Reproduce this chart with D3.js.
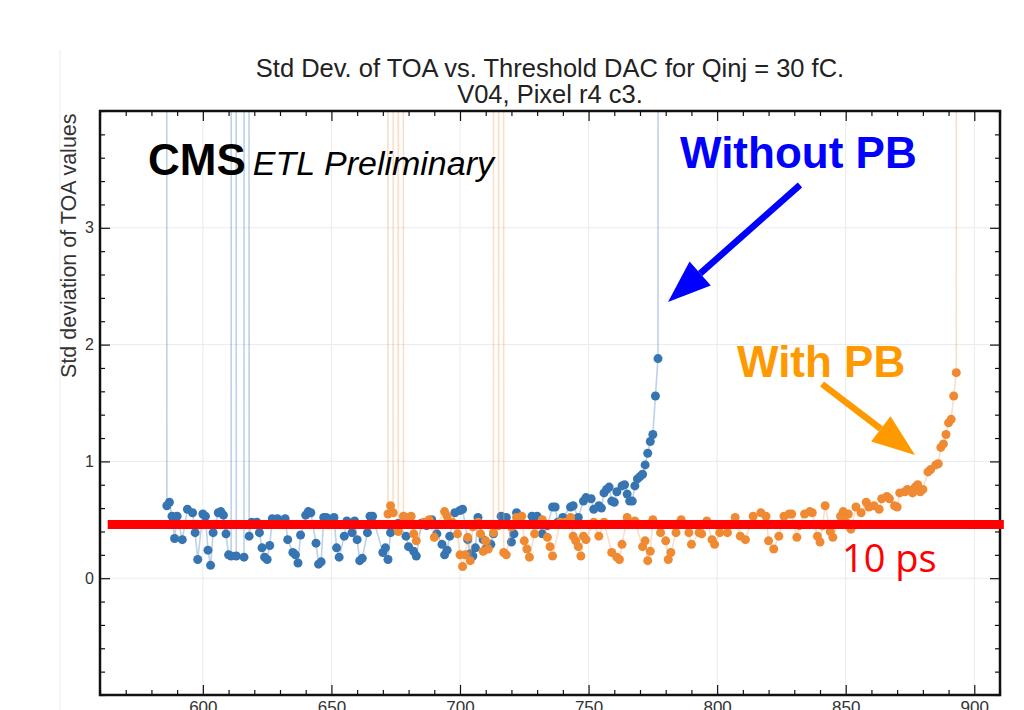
<!DOCTYPE html>
<html>
<head>
    <meta charset="utf-8">
    <title>Std Dev of TOA vs Threshold DAC</title>
    <script type="text/javascript" src="https://cdn.jsdelivr.net/npm/d3@7"></script>
    <style type="text/css">
        body {
            margin: 0;
            background: #fff;
        }

        svg {
            display: block;
            font-family: "Liberation Sans", Arial, sans-serif;
        }

        .grid line {
            stroke: #ebebeb;
            stroke-width: 1;
        }

        .axis path {
            stroke: none;
        }

        .axis line {
            stroke: #111;
            stroke-width: 1.2;
        }

        .axis text {
            fill: #333;
        }
    </style>
</head>

<body>

<script type="text/javascript">
    // Without PB (blue): DAC value and std deviation, 100 = off-scale spike
    var blueDac = [585, 586, 587, 588, 589, 590, 592, 594, 596, 597, 598, 600, 601, 602, 603, 604,
        606, 607, 608, 609, 610, 611, 612, 613, 616, 617, 618, 619, 621, 622, 623, 624, 625, 626,
        627, 629, 632, 633, 635, 636, 637, 638, 640, 641, 642, 644, 645, 646, 647, 648, 651, 652,
        653, 655, 656, 658, 659, 660, 661, 662, 664, 665, 666, 670, 671, 672, 673, 676, 679, 680,
        682, 683, 685, 687, 689, 691, 693, 694, 695, 696, 698, 700, 701, 703, 704, 705, 706, 707,
        709, 710, 712, 713, 716, 718, 720, 721, 722, 723, 726, 728, 730, 732, 734, 736, 737, 738,
        740, 743, 744, 746, 748, 749, 751, 752, 754, 755, 756, 757, 758, 759, 760, 761, 763, 764,
        765, 766, 767, 768, 769, 770, 771, 772, 773, 774, 775, 776, 777, 778];
    var blueStd = [100, 0.62, 0.65, 0.53, 0.34, 0.53, 0.33, 0.59, 0.56, 0.39, 0.16, 0.55, 0.53, 0.24, 0.11, 0.39,
        0.56, 0.57, 0.54, 0.38, 0.20, 0.19, 100, 0.19, 0.18, 100, 0.36, 0.48, 0.48, 0.39, 0.26, 0.18, 0.16, 0.28,
        0.51, 0.51, 0.51, 0.33, 0.22, 0.20, 0.13, 0.37, 0.54, 0.57, 0.56, 0.30, 0.12, 0.14, 0.52, 0.52, 0.52, 0.26,
        0.18, 0.36, 0.49, 0.39, 0.49, 0.33, 0.15, 0.17, 0.39, 0.53, 0.53, 0.22, 0.26, 0.16, 0.39, 0.47, 0.36, 0.27,
        0.23, 0.19, 0.47, 0.45, 0.50, 0.38, 0.29, 0.20, 0.24, 0.36, 0.56, 0.58, 0.59, 0.33, 0.21, 0.19, 0.26, 0.52,
        0.33, 0.25, 0.29, 0.38, 0.53, 0.52, 0.31, 0.38, 0.56, 0.53, 0.46, 0.53, 0.53, 0.38, 0.45, 0.61, 0.61, 0.48,
        0.52, 0.61, 0.62, 0.52, 0.66, 0.69, 0.68, 0.59, 0.62, 0.60, 0.73, 0.76, 0.78, 0.66, 0.65, 0.74, 0.79, 0.80,
        0.72, 0.66, 0.66, 0.79, 0.85, 0.87, 0.89, 0.97, 1.07, 1.17, 1.23, 1.56, 1.88, 100];

    // With PB (orange)
    var orangeDac = [671, 672, 673, 674, 675, 676, 677, 678, 679, 681, 682, 683, 686, 688, 690, 691,
        694, 695, 697, 699, 700, 701, 702, 703, 704, 705, 707, 708, 709, 710, 711, 713, 714, 715,
        716, 717, 718, 720, 722, 724, 725, 726, 727, 729, 732, 734, 735, 736, 739, 741, 743, 744,
        745, 746, 747, 748, 749, 752, 754, 756, 759, 761, 762, 763, 765, 768, 771, 772, 773, 774,
        775, 778, 780, 781, 782, 784, 786, 789, 790, 793, 794, 796, 798, 799, 801, 804, 807, 809,
        811, 814, 817, 819, 820, 822, 824, 826, 828, 829, 831, 832, 834, 836, 837, 839, 840, 841,
        842, 844, 845, 848, 849, 850, 851, 852, 854, 856, 858, 859, 861, 863, 864, 866, 867, 869,
        870, 871, 873, 874, 876, 877, 878, 879, 880, 882, 883, 885, 886, 887, 888, 889, 890, 891,
        892, 893, 894];
    var orangeStd = [100, 0.55, 0.62, 0.56, 100, 0.40, 100, 0.53, 0.52, 0.53, 0.38, 0.32, 0.48, 0.50, 0.35, 0.46,
        0.57, 0.53, 0.48, 0.38, 0.20, 0.10, 0.20, 0.35, 0.15, 0.44, 0.48, 0.38, 0.23, 0.32, 0.25, 0.39, 100, 0.45,
        100, 0.22, 0.20, 0.44, 0.52, 0.53, 0.32, 0.25, 0.18, 0.38, 0.50, 0.35, 0.27, 0.19, 0.48, 0.48, 0.52, 0.36,
        0.32, 0.27, 0.19, 0.36, 0.33, 0.48, 0.36, 0.48, 0.22, 0.18, 0.16, 0.29, 0.52, 0.49, 0.27, 0.32, 0.15, 0.23,
        0.50, 0.39, 0.32, 0.16, 0.22, 0.39, 0.50, 0.39, 0.29, 0.39, 0.38, 0.49, 0.33, 0.29, 0.39, 0.39, 0.52, 0.36,
        0.33, 0.53, 0.56, 0.53, 0.32, 0.25, 0.36, 0.53, 0.55, 0.55, 0.35, 0.45, 0.55, 0.57, 0.56, 0.36, 0.31, 0.45,
        0.62, 0.40, 0.35, 0.53, 0.57, 0.48, 0.55, 0.42, 0.61, 0.56, 0.65, 0.61, 0.62, 0.59, 0.68, 0.70, 0.68, 0.62,
        0.61, 0.73, 0.74, 0.76, 0.73, 0.78, 0.80, 0.74, 0.76, 0.91, 0.93, 0.97, 0.98, 1.12, 1.15, 1.23, 1.33, 1.36,
        1.56, 1.76, 100];

    var xMajor = [600, 650, 700, 750, 800, 850, 900];
    var yMajor = [0, 1, 2, 3];
    var titleLines = ["Std Dev. of TOA vs. Threshold DAC for Qinj = 30 fC.", "V04, Pixel r4 c3."];
    var yLabel = "Std deviation of TOA values";
    var refLevel = 0.46; // the red "10 ps" line

    var w = 1024, h = 710,
        plotLeft = 100, plotRight = 1000, plotTop = 111, plotBottom = 695;

    var svg = d3.select("body")
        .append("svg")
            .attr("width", w)
            .attr("height", h);

    svg.append("rect").attr("width", w).attr("height", h).attr("fill", "#fff");

    // faint edge of the pasted plot image
    svg.append("line")
        .attr("x1", 60).attr("x2", 60).attr("y1", 50).attr("y2", h)
        .attr("stroke", "#f1f3f7").attr("stroke-width", 1.5);

    var x = d3.scaleLinear().domain([560, 910]).range([plotLeft, plotRight]);
    var y = d3.scaleLinear().domain([-1, 4]).range([plotBottom, plotTop]);

    var xMinor = d3.range(560, 911, 10).filter(function (v) {return xMajor.indexOf(v) < 0;});
    var yMinor = d3.range(-10, 41, 2).map(function (v) {return v / 10;})
        .filter(function (v) {return yMajor.indexOf(v) < 0;});

    // grid
    var grid = svg.append("g").attr("class", "grid");
    grid.selectAll(".gx").data(xMajor).enter().append("line")
        .attr("x1", x).attr("x2", x).attr("y1", plotTop).attr("y2", plotBottom);
    grid.selectAll(".gy").data(yMajor).enter().append("line")
        .attr("y1", y).attr("y2", y).attr("x1", plotLeft).attr("x2", plotRight);

    // data
    svg.append("clipPath").attr("id", "clip")
        .append("rect").attr("x", plotLeft).attr("y", plotTop)
        .attr("width", plotRight - plotLeft).attr("height", plotBottom - plotTop);

    var plot = svg.append("g").attr("clip-path", "url(#clip)");

    function drawSeries(dac, vals, lineColor, dotColor) {
        var pts = dac.map(function (d, i) {return {dac: d, std: vals[i]};});
        var line = d3.line()
            .x(function (d) {return x(d.dac);})
            .y(function (d) {return y(d.std);});

        plot.append("path")
            .datum(pts)
            .attr("d", line)
            .attr("fill", "none")
            .attr("stroke", lineColor)
            .attr("stroke-opacity", 0.35)
            .attr("stroke-width", 1.6);

        plot.append("g").selectAll("circle")
            .data(pts.filter(function (d) {return d.std < 4;}))
            .enter().append("circle")
                .attr("cx", function (d) {return x(d.dac);})
                .attr("cy", function (d) {return y(d.std);})
                .attr("r", 4.5)
                .attr("fill", dotColor);
    }

    drawSeries(blueDac, blueStd, "#3f7fbf", "#3675b2");
    drawSeries(orangeDac, orangeStd, "#f0a060", "#ef8a33");

    // axes, ticks pointing inwards on all four sides
    function addAxis(axis, tx, ty, values, size, labels, fontSize) {
        var g = svg.append("g")
            .attr("class", "axis")
            .attr("transform", "translate(" + tx + "," + ty + ")")
            .call(axis.tickValues(values).tickSize(size).tickPadding(6)
                .tickFormat(labels ? d3.format("d") : ""));
        g.selectAll("text").style("font-size", fontSize || "15px");
        return g;
    }

    addAxis(d3.axisBottom(x), 0, plotBottom, xMajor, -10, true, "17px");
    addAxis(d3.axisBottom(x), 0, plotBottom, xMinor, -5, false);
    addAxis(d3.axisTop(x), 0, plotTop, xMajor, -10, false);
    addAxis(d3.axisTop(x), 0, plotTop, xMinor, -5, false);
    addAxis(d3.axisLeft(y), plotLeft, 0, yMajor, -10, true, "16px");
    addAxis(d3.axisLeft(y), plotLeft, 0, yMinor, -5, false);
    addAxis(d3.axisRight(y), plotRight, 0, yMajor, -10, false);
    addAxis(d3.axisRight(y), plotRight, 0, yMinor, -5, false);

    svg.append("rect")
        .attr("x", plotLeft).attr("y", plotTop)
        .attr("width", plotRight - plotLeft).attr("height", plotBottom - plotTop)
        .attr("fill", "none").attr("stroke", "#111").attr("stroke-width", 2.5);

    // titles
    svg.selectAll(".title").data(titleLines).enter().append("text")
        .attr("x", (plotLeft + plotRight) / 2)
        .attr("y", function (d, i) {return 77 + i * 26;})
        .attr("text-anchor", "middle")
        .attr("fill", "#222")
        .style("font-size", "25.5px")
        .text(function (d) {return d;});

    svg.append("text")
        .attr("transform", "translate(76,378) rotate(-90)")
        .attr("fill", "#333")
        .style("font-size", "21.5px")
        .text(yLabel);

    // CMS label
    var cms = svg.append("text").attr("x", 148).attr("y", 175).attr("fill", "#000");
    cms.append("tspan").style("font-weight", "bold").style("font-size", "44px").text("CMS");
    cms.append("tspan").attr("dx", 7).style("font-style", "italic").style("font-size", "34px")
        .text("ETL Preliminary");

    // annotations
    svg.append("line")
        .attr("x1", x(563)).attr("x2", x(911.5))
        .attr("y1", y(refLevel)).attr("y2", y(refLevel))
        .attr("stroke", "#ff0000").attr("stroke-width", 9);

    svg.append("text")
        .attr("x", 842).attr("y", 572)
        .attr("fill", "#ff0000")
        .style("font-family", "'Open Sans', sans-serif")
        .style("font-size", "38px")
        .text("10 ps");

    function arrow(x1, y1, x2, y2, color) {
        var ang = Math.atan2(y2 - y1, x2 - x1),
            headLen = 43, headW = 16;
        var bx = x2 - headLen * Math.cos(ang), by = y2 - headLen * Math.sin(ang);
        svg.append("line")
            .attr("x1", x1).attr("y1", y1).attr("x2", bx).attr("y2", by)
            .attr("stroke", color).attr("stroke-width", 6.5);
        var px = -Math.sin(ang) * headW, py = Math.cos(ang) * headW;
        svg.append("path")
            .attr("d", "M" + x2 + "," + y2 + "L" + (bx + px) + "," + (by + py) +
                "L" + (bx - px) + "," + (by - py) + "Z")
            .attr("fill", color);
    }

    svg.append("text")
        .attr("x", 680).attr("y", 168)
        .attr("fill", "#0000ff")
        .style("font-weight", "bold").style("font-size", "44px")
        .text("Without PB");
    arrow(800, 185, 668, 302, "#0000ff");

    svg.append("text")
        .attr("x", 737).attr("y", 377)
        .attr("fill", "#ff9900")
        .style("font-weight", "bold").style("font-size", "44px")
        .text("With PB");
    arrow(822, 384, 915, 455, "#ff9900");
</script>

</body>
</html>
